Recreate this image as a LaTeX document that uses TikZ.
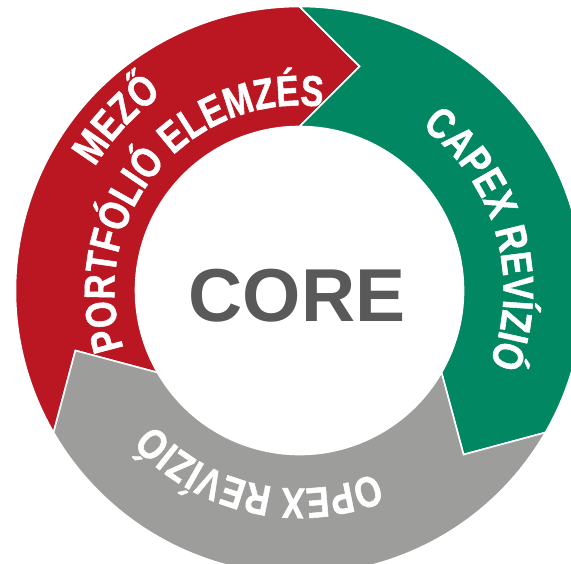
\documentclass[tikz,border=0pt]{standalone}
\usepackage{fontspec}
\setmainfont{Liberation Sans}
\newfontfamily\arcfont[FakeStretch=0.8,FakeBold=1.2]{Liberation Sans Bold}
\newfontfamily\corefont{Liberation Sans Bold}
\usetikzlibrary{decorations.text}
\definecolor{redc}{HTML}{BA1723}
\definecolor{greenc}{HTML}{028763}
\definecolor{grayc}{HTML}{9D9D9C}
\definecolor{corec}{HTML}{595959}
\tikzset{
  segment/.style={draw=white, line width=1.6pt, line join=miter},
  arctext/.style={decorate, decoration={text along path, text align=center, text color=white,
     text={|\arcfont\fontsize{43}{43}\selectfont|#1}}}
}
\begin{document}
\begin{tikzpicture}[x=1pt,y=1pt]
\useasboundingbox (0,0) rectangle (571,563);
\clip (0,0) rectangle (571,563);
\begin{scope}[shift={(299.5,272.5)}]
  % red segment
  \fill[redc, segment] (210:284pt) arc[start angle=210, end angle=90, radius=284pt]
     -- (75:232pt) -- (90:164pt) arc[start angle=90, end angle=210, radius=164pt]
     -- (195:232pt) -- cycle;
  % green segment
  \fill[greenc, segment] (90:284pt) arc[start angle=90, end angle=-30, radius=284pt]
     -- (-45:232pt) -- (-30:164pt) arc[start angle=-30, end angle=90, radius=164pt]
     -- (75:232pt) -- cycle;
  % gray segment
  \fill[grayc, segment] (-30:284pt) arc[start angle=-30, end angle=-150, radius=284pt]
     -- (-165:232pt) -- (-150:164pt) arc[start angle=-150, end angle=-30, radius=164pt]
     -- (-45:232pt) -- cycle;
  % texts along arcs
  \path[arctext={MEZŐ}] (197:239pt) arc[start angle=197, end angle=77, radius=239pt];
  \path[arctext={PORTFÓLIÓ ELEMZÉS}] (205:185pt) arc[start angle=205, end angle=76, radius=185pt];
  \path[arctext={CAPEX REVÍZIÓ}] (76:204pt) arc[start angle=76, end angle=-44, radius=204pt];
  \path[arctext={OPEX REVÍZIÓ}] (-42.5:198pt) arc[start angle=-42.5, end angle=-162.5, radius=198pt];
  \node[font=\corefont\fontsize{75}{75}\selectfont, text=corec, inner sep=0pt] (core) at (-2.5,-5) {CORE};
\end{scope}
\end{tikzpicture}
\end{document}
